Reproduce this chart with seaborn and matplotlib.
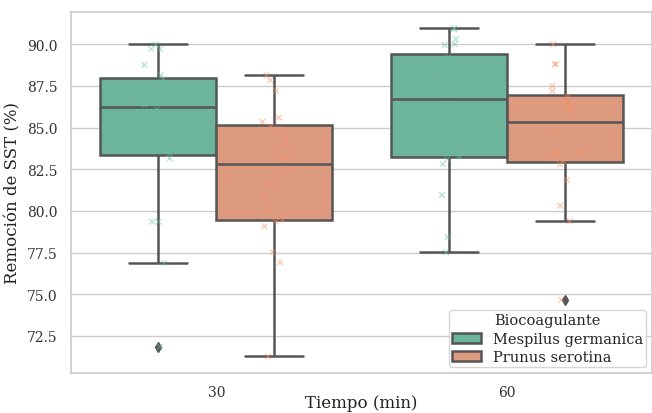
import numpy as np
import pandas as pd
import matplotlib
matplotlib.use("Agg")
import matplotlib.pyplot as plt
import seaborn as sns

# SST removal (%) per sampling time and biocoagulant, 20 replicates each
tiempos = [30, 60]
biocoagulantes = ["Mespilus germanica", "Prunus serotina"]

mespilus_30 = [71.86, 76.88, 79.35, 79.35, 83.15, 83.42, 84.10, 84.90, 85.60, 86.10,
               86.38, 86.90, 87.30, 87.60, 87.90, 88.14, 88.76, 89.72, 89.72, 90.00]
prunus_30 = [71.27, 76.92, 77.52, 79.08, 79.35, 79.47, 80.10, 80.90, 81.60, 82.50,
             83.12, 83.30, 84.07, 84.60, 85.08, 85.35, 85.60, 87.20, 87.84, 88.14]
mespilus_60 = [77.52, 78.42, 80.95, 82.81, 83.11, 83.27, 84.00, 85.10, 85.80, 86.40,
               87.00, 87.60, 88.20, 88.70, 89.22, 89.95, 90.00, 90.30, 90.90, 90.96]
prunus_60 = [74.68, 79.38, 80.31, 81.87, 82.81, 82.97, 83.40, 83.50, 83.60, 84.70,
             85.96, 86.20, 86.40, 86.60, 86.85, 87.20, 87.50, 88.80, 88.80, 90.00]

series = {
    (30, "Mespilus germanica"): mespilus_30,
    (30, "Prunus serotina"): prunus_30,
    (60, "Mespilus germanica"): mespilus_60,
    (60, "Prunus serotina"): prunus_60,
}

rows = []
for (t, b), vals in series.items():
    for v in vals:
        rows.append({"Tiempo (min)": t, "Biocoagulante": b, "Remoción de SST (%)": v})
df = pd.DataFrame(rows)

sns.set_theme(style="whitegrid")
plt.rcParams["font.family"] = ["DejaVu Serif"]

fig = plt.figure(figsize=(6.52, 4.14), dpi=100)
ax = fig.add_axes([0.109, 0.097, 0.891, 0.872])

box_colors = ["#6cb59a", "#dd9a7f"]
point_colors = sns.color_palette("Set2", 2)
line_gray = "#555555"

sns.boxplot(data=df, x="Tiempo (min)", y="Remoción de SST (%)", hue="Biocoagulante",
            order=tiempos, hue_order=biocoagulantes, palette=box_colors,
            saturation=1, linewidth=1.8, linecolor=line_gray,
            flierprops=dict(marker="d", markerfacecolor=line_gray,
                            markeredgecolor=line_gray, markersize=5),
            ax=ax)

np.random.seed(3)
sns.stripplot(data=df, x="Tiempo (min)", y="Remoción de SST (%)", hue="Biocoagulante",
              order=tiempos, hue_order=biocoagulantes, palette=point_colors,
              dodge=True, marker="x", size=4, linewidth=0.9, alpha=0.5,
              legend=False, ax=ax)

ax.tick_params(axis="both", labelsize=10, colors="#333333")
ax.tick_params(axis="x", pad=2.5)
ax.set_xlabel("Tiempo (min)", fontsize=12, color="#222222")
ax.xaxis.set_label_coords(0.5, -0.058)
ax.set_ylabel("Remoción de SST (%)", fontsize=12, color="#222222")

leg = ax.legend(title="Biocoagulante", loc="lower right", fontsize=10.5,
                title_fontsize=10.5, borderpad=0.2, borderaxespad=0.4,
                labelspacing=0.3)

fig.savefig("out.png", dpi=100)
